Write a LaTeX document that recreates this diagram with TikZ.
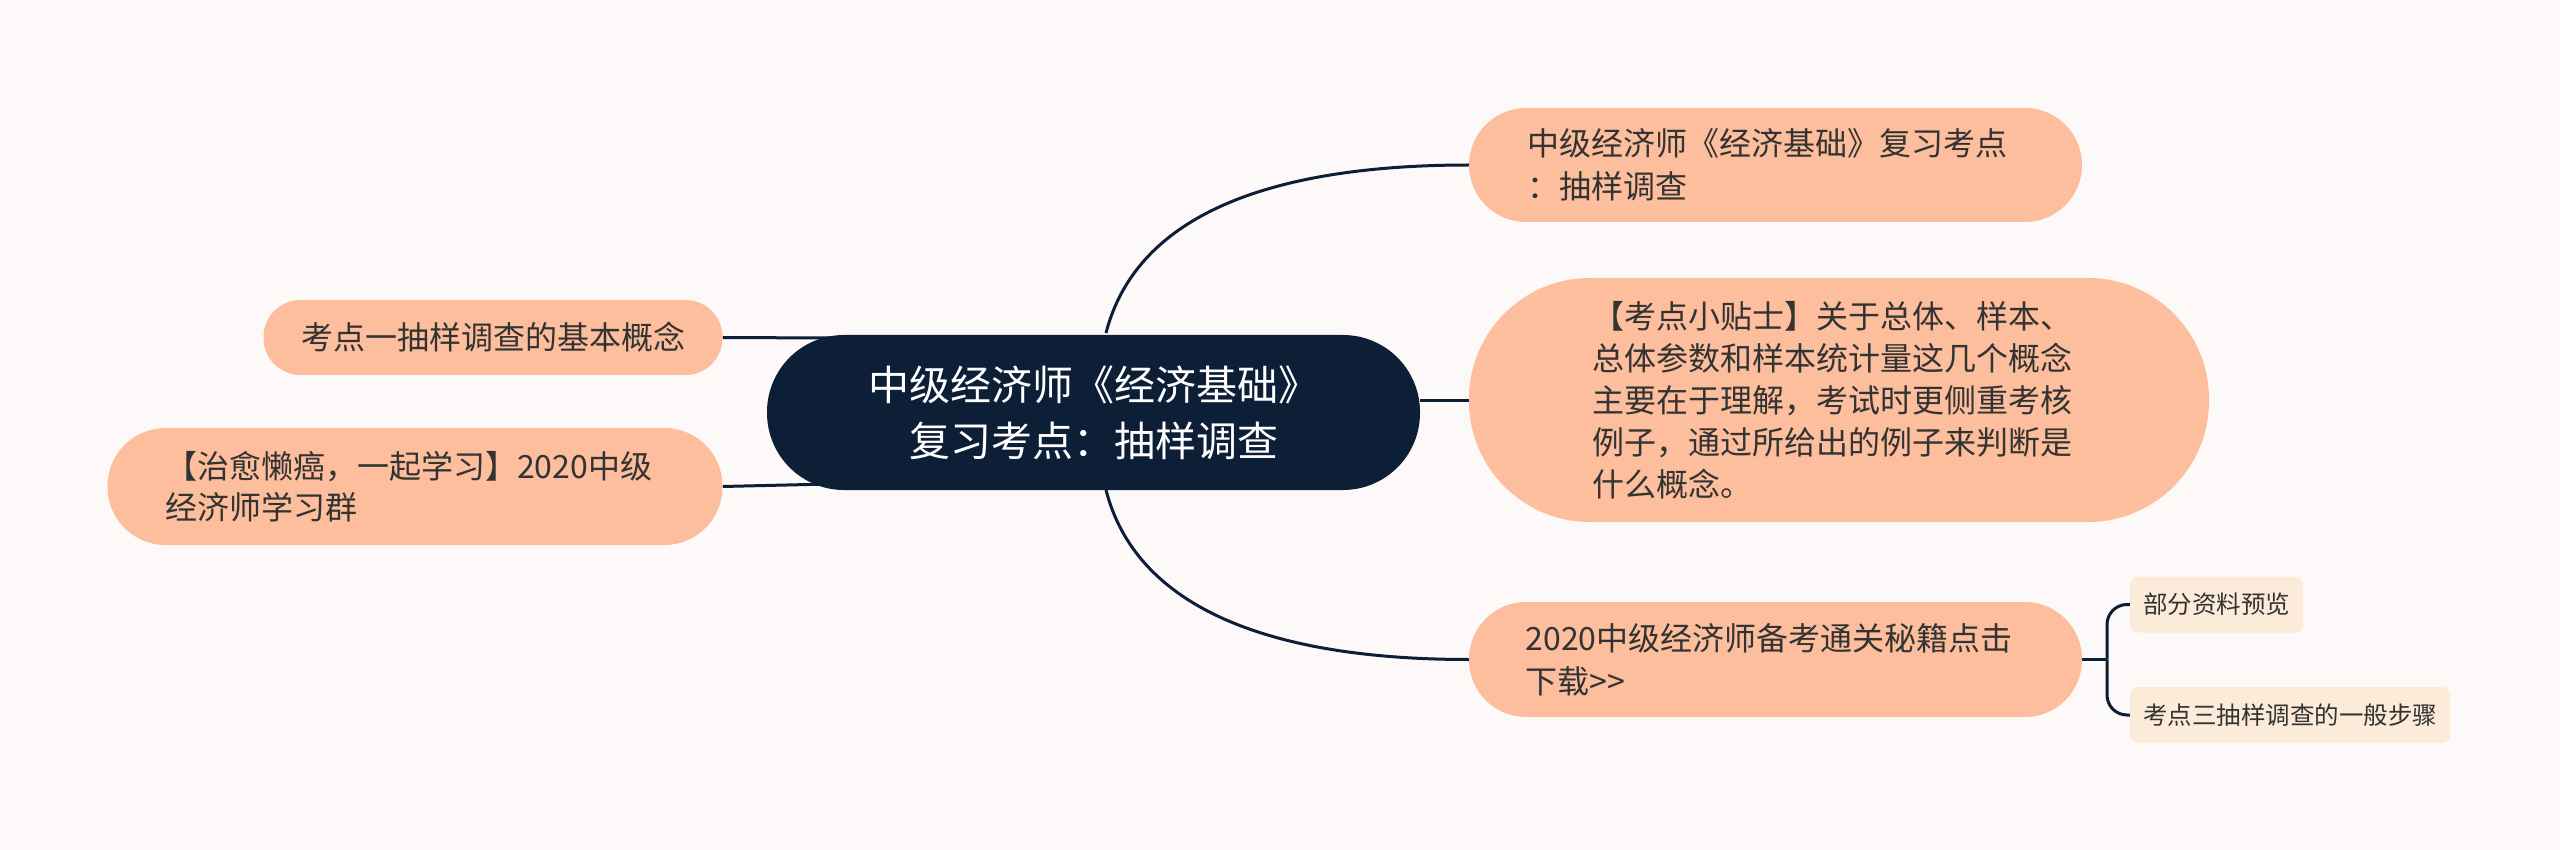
\documentclass[tikz,border=0pt]{standalone}
\usepackage{fontspec}
\setmainfont{Noto Sans CJK SC}
\usetikzlibrary{calc}
\definecolor{bgc}{HTML}{FDF9F8}
\definecolor{navy}{HTML}{0D1F37}
\definecolor{peach}{HTML}{FCBE9C}
\definecolor{lightpeach}{HTML}{FDEBD9}
\definecolor{txt}{HTML}{333333}
\pgfdeclarelayer{back}
\pgfdeclarelayer{bg}
\pgfsetlayers{back,bg,main}
\tikzset{
  rootbox/.style={fill=navy, text=white, inner sep=0pt, minimum width=653pt, minimum height=155pt,
    rounded corners=77pt, align=center, font=\fontsize{41}{56}\selectfont},
  topicbox/.style={fill=peach, text=txt, inner sep=0pt, align=left, font=\fontsize{32}{43}\selectfont},
  subbox/.style={fill=lightpeach, text=txt, inner xsep=13pt, inner ysep=0pt, minimum height=56pt,
    rounded corners=8pt, anchor=west, font=\fontsize{24.5}{30}\selectfont},
  link/.style={draw=navy, line width=3pt}
}
\begin{document}
\begin{tikzpicture}[x=1pt,y=-1pt]
\begin{pgfonlayer}{back}
\useasboundingbox[fill=bgc] (0,0) rectangle (2560,850);
\end{pgfonlayer}

\node[rootbox] (c) at (1093.5,412.5) {中级经济师《经济基础》\\复习考点：抽样调查};

\node[topicbox, minimum width=613pt, minimum height=114pt, rounded corners=57pt, text width=497pt] (tr) at (1775.5,165) {中级经济师《经济基础》复习考点\\：抽样调查};

\node[topicbox, minimum width=740pt, minimum height=244pt, rounded corners=121pt, text width=494pt, font=\fontsize{32}{42}\selectfont] (mr) at (1839,400) {【考点小贴士】关于总体、样本、\\总体参数和样本统计量这几个概念\\主要在于理解，考试时更侧重考核\\例子，通过所给出的例子来判断是\\什么概念。};

\node[topicbox, minimum width=613pt, minimum height=115pt, rounded corners=57pt, text width=500pt] (br) at (1775.5,659.5) {2020中级经济师备考通关秘籍点击\\下载>{}>};

\node[topicbox, minimum width=459pt, minimum height=75pt, rounded corners=37pt, align=center] (l1) at (493,337.5) {考点一抽样调查的基本概念};

\node[topicbox, minimum width=615pt, minimum height=117pt, rounded corners=58pt, text width=500pt, font=\fontsize{32}{41}\selectfont] (l2) at (415,486.5) {【治愈懒癌，一起学习】2020中级\\经济师学习群};

\node[subbox] (s1) at (2130,604.5) {部分资料预览};
\node[subbox] (s2) at (2130,715) {考点三抽样调查的一般步骤};

\coordinate (ctop) at (1106,333);
\coordinate (cbot) at (1106,490);
\coordinate (cl1) at (830,338);
\coordinate (cl2) at (830,484);
\coordinate (j) at (2107,659.5);

\begin{pgfonlayer}{bg}
\draw[link] (ctop) .. controls (1135,220) and (1260,165) .. (tr.west);
\draw[link] (cbot) .. controls (1135,603) and (1260,659.5) .. (br.west);
\draw[link] (c.east |- mr.west) -- (mr.west);
\draw[link] (l1.east) -- (cl1);
\draw[link] (l2.east) -- (cl2);
\draw[link] (br.east) -- (j);
\draw[link, rounded corners=20pt] (j) |- (s1.west);
\draw[link, rounded corners=20pt] (j) |- (s2.west);
\end{pgfonlayer}
\end{tikzpicture}
\end{document}
